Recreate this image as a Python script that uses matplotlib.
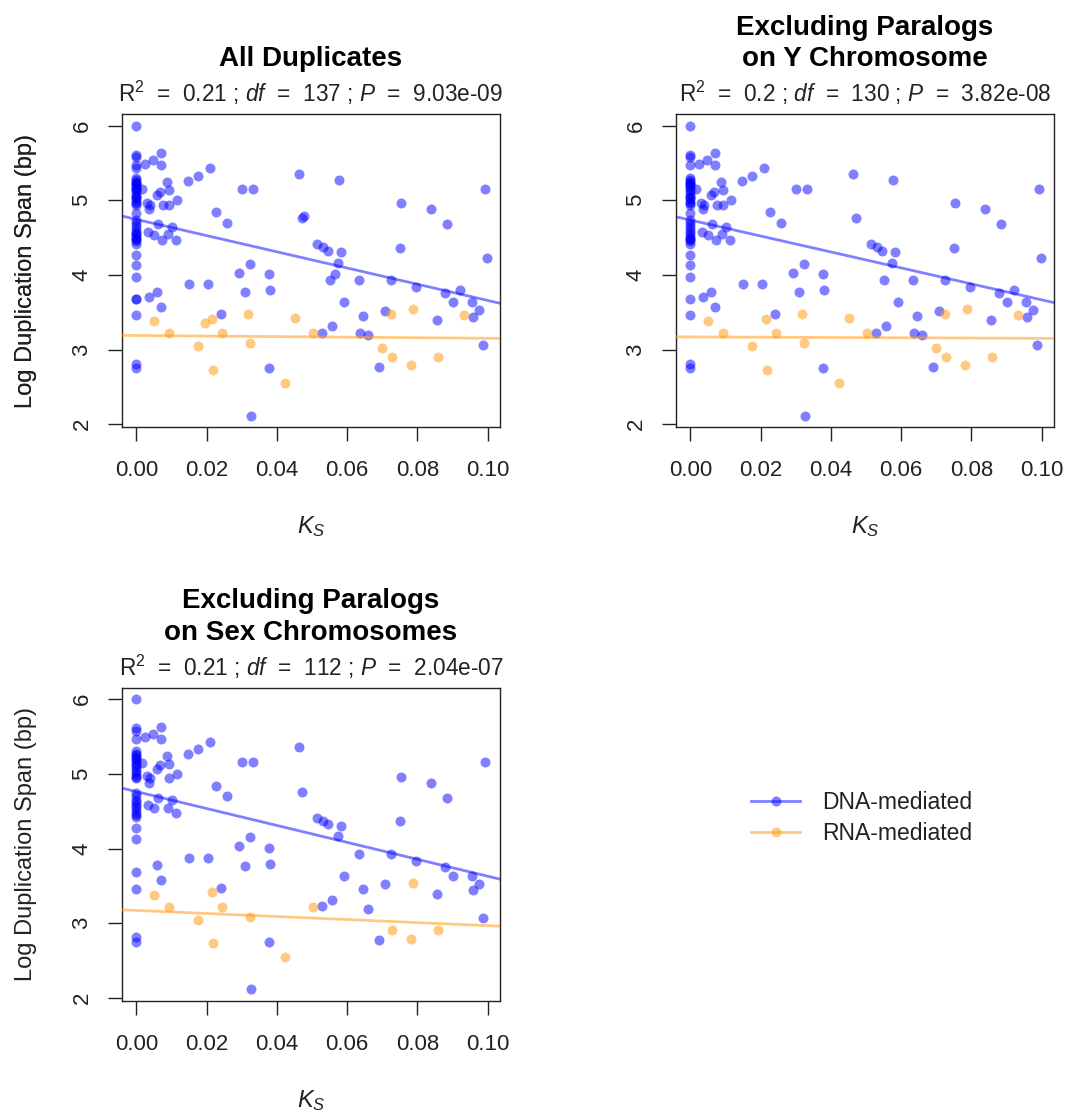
import matplotlib
matplotlib.use('Agg')
import matplotlib.pyplot as plt
from matplotlib.lines import Line2D
import numpy as np

plt.rcParams['font.family'] = ['Liberation Sans', 'DejaVu Sans']
plt.rcParams['mathtext.fontset'] = 'custom'
plt.rcParams['mathtext.rm'] = 'Liberation Sans'
plt.rcParams['mathtext.it'] = 'Liberation Sans:italic'
plt.rcParams['mathtext.bf'] = 'Liberation Sans:bold'

# ---------------- data ----------------
# DNA-mediated duplicates: Ks, log10 duplication span, chromosome class
# chromosome class: 'A' autosomal, 'X' involves X, 'Y' involves Y
dna_ks = [
    0, 0, 0, 0, 0, 0, 0, 0, 0, 0, 0, 0, 0, 0, 0, 0, 0, 0, 0, 0, 0, 0,
    0, 0, 0, 0, 0, 0, 0, 0, 0, 0, 0, 0, 0, 0, 0, 0, 0, 0, 0, 0, 0,
    0.00247, 0.00484, 0.00702, 0.00702, 0.00171, 0.00863, 0.00930, 0.00674,
    0.00598, 0.01148, 0.00294, 0.00389, 0.00370, 0.00769, 0.00930, 0.00626,
    0.00323, 0.00503, 0.01025, 0.00911, 0.00740, 0.01139, 0.00370, 0.00598,
    0.00712,
    0.01461, 0.01755, 0.02097, 0.02258, 0.02590, 0.03017, 0.03311, 0.01499,
    0.02049, 0.02932, 0.03235, 0.03102, 0.02400, 0.03273, 0.03776, 0.03814,
    0.03776, 0.04639, 0.04725, 0.04782, 0.05142, 0.05323, 0.05465, 0.05778,
    0.05825, 0.05731, 0.05655, 0.05522, 0.05911, 0.05285, 0.05579, 0.06328,
    0.06461, 0.06357, 0.06584, 0.06917, 0.07078, 0.07249, 0.07505, 0.07543,
    0.07951, 0.08378, 0.08548, 0.08843, 0.08795, 0.09004, 0.09213, 0.09545,
    0.09573, 0.09763, 0.09858, 0.09934, 0.09972,
]
dna_span = [
    6.00, 5.61, 5.58, 5.47, 5.43, 5.30, 5.27, 5.25, 5.23, 5.20, 5.18, 5.15,
    5.12, 5.09, 5.05, 5.02, 4.98, 4.96, 4.94, 4.83, 4.74, 4.70, 4.65, 4.62,
    4.58, 4.55, 4.51, 4.48, 4.45, 4.42, 4.27, 4.13, 3.97, 3.68, 3.68, 3.46,
    2.81, 2.75, 5.15, 5.05, 4.55, 4.48, 5.22,
    5.487, 5.540, 5.629, 5.473, 5.147, 5.241, 5.138, 5.116,
    5.067, 5.004, 4.969, 4.938, 4.879, 4.938, 4.938, 4.683,
    4.580, 4.536, 4.647, 4.549, 4.469, 4.469, 3.710, 3.777,
    3.576,
    5.259, 5.330, 5.429, 4.839, 4.701, 5.156, 5.156, 3.875,
    3.875, 4.031, 4.152, 3.772, 3.473, 2.116, 4.013, 3.795,
    2.750, 5.353, 4.759, 4.795, 4.411, 4.371, 4.326, 5.272,
    4.304, 4.165, 4.009, 3.933, 3.638, 3.228, 3.317, 3.933,
    3.455, 3.228, 3.196, 2.772, 3.522, 3.933, 4.366, 4.960,
    3.835, 4.879, 3.397, 4.683, 3.754, 3.638, 3.799, 3.638,
    3.442, 3.531, 3.063, 5.156, 4.228,
]
dna_chrom = [
    'A', 'A', 'A', 'A', 'Y', 'A', 'A', 'A', 'A', 'A', 'A', 'A',
    'A', 'A', 'A', 'A', 'A', 'A', 'A', 'X', 'A', 'A', 'A', 'A',
    'A', 'A', 'A', 'A', 'A', 'A', 'A', 'A', 'X', 'A', 'Y', 'A',
    'A', 'A', 'Y', 'X', 'Y', 'X', 'X',
    'A', 'A', 'A', 'A', 'A', 'A', 'A', 'A',
    'A', 'A', 'A', 'A', 'A', 'X', 'A', 'A',
    'A', 'A', 'A', 'A', 'X', 'A', 'X', 'A',
    'A',
    'A', 'A', 'A', 'A', 'A', 'A', 'A', 'A',
    'A', 'A', 'A', 'A', 'A', 'A', 'A', 'A',
    'A', 'A', 'A', 'Y', 'A', 'A', 'A', 'X',
    'A', 'A', 'Y', 'X', 'A', 'A', 'A', 'A',
    'A', 'X', 'A', 'A', 'A', 'A', 'A', 'A',
    'A', 'A', 'A', 'A', 'A', 'A', 'X', 'A',
    'A', 'A', 'A', 'A', 'X',
]

# RNA-mediated duplicates
rna_ks = [0.00493, 0.00920, 0.01746, 0.01964, 0.02144, 0.02182, 0.02429,
          0.03188, 0.03226, 0.04241, 0.04516, 0.05019, 0.06992, 0.07249,
          0.07287, 0.07865, 0.07827, 0.08596, 0.09336]
rna_span = [3.384, 3.219, 3.045, 3.362, 3.415, 2.728, 3.223,
            3.478, 3.085, 2.549, 3.420, 3.223, 3.027, 3.478,
            2.906, 3.540, 2.790, 2.906, 3.460]
rna_chrom = ['A', 'A', 'A', 'Y', 'A', 'A', 'A',
             'X', 'A', 'A', 'X', 'A', 'X', 'X',
             'A', 'A', 'A', 'A', 'X']

panel_titles = ['All Duplicates',
                'Excluding Paralogs\non Y Chromosome',
                'Excluding Paralogs\non Sex Chromosomes']
panel_r2 = ['0.21', '0.2', '0.21']
panel_df = ['137', '130', '112']
panel_p = ['9.03e-09', '3.82e-08', '2.04e-07']
panel_excluded = [[], ['Y'], ['X', 'Y']]
# regression lines (intercept, slope) per panel
dna_intercept = [4.744, 4.735, 4.762]
dna_slope = [-10.86, -10.69, -11.33]
rna_intercept = [3.188, 3.169, 3.171]
rna_slope = [-0.37, -0.19, -2.04]

x_ticks = [0.00, 0.02, 0.04, 0.06, 0.08, 0.10]
x_ticklabels = ['0.00', '0.02', '0.04', '0.06', '0.08', '0.10']
y_ticks = [2, 3, 4, 5, 6]
legend_labels = ['DNA-mediated', 'RNA-mediated']

# ---------------- styling ----------------
W, H = 1069, 1113
DNA_COL = (0, 0, 1, 0.5)
RNA_COL = (1, 0.62, 0.1, 0.55)
MS = 7.2
fig = plt.figure(figsize=(W / 100, H / 100), dpi=100)

# axes boxes in pixels (left, top, right, bottom)
boxes = [(121.7, 114, 500, 427), (675.7, 114, 1054, 427), (121.7, 687.5, 500, 1000.7)]

dks = np.array(dna_ks); dsp = np.array(dna_span); dch = np.array(dna_chrom)
rks = np.array(rna_ks); rsp = np.array(rna_span); rch = np.array(rna_chrom)

xlim = (-0.00417, 0.10351)
ylim = (1.962, 6.156)

for i, (l, t, r, b) in enumerate(boxes):
    ax = fig.add_axes([l / W, 1 - b / H, (r - l) / W, (b - t) / H])
    dm = ~np.isin(dch, panel_excluded[i])
    rm = ~np.isin(rch, panel_excluded[i])
    ax.plot(dks[dm], dsp[dm], 'o', ms=MS, mec='none', mfc=DNA_COL, zorder=2)
    ax.plot(rks[rm], rsp[rm], 'o', ms=MS, mec='none', mfc=RNA_COL, zorder=2)
    xs = np.array(xlim)
    ax.plot(xs, dna_intercept[i] + dna_slope[i] * xs, color=DNA_COL, lw=2, zorder=3)
    ax.plot(xs, rna_intercept[i] + rna_slope[i] * xs, color=RNA_COL, lw=2, zorder=3)
    ax.set_xlim(xlim)
    ax.set_ylim(ylim)
    ax.set_xticks(x_ticks)
    ax.set_xticklabels(x_ticklabels)
    ax.set_yticks(y_ticks)
    ax.set_yticklabels([str(v) for v in y_ticks], rotation=90, va='center')
    ax.tick_params(axis='both', direction='out', length=10, width=1.0,
                   color='#222222', labelsize=16, labelcolor='#222222')
    ax.tick_params(axis='x', pad=14)
    ax.tick_params(axis='y', pad=11)
    for s in ax.spines.values():
        s.set_linewidth(1.0)
        s.set_color('#222222')
    ax.set_xlabel(r'$K_S$', fontsize=17, color='#222222')
    ax.xaxis.set_label_coords(0.5, -100 / (b - t))
    ax.xaxis.label.set_va('center')
    ax.set_ylabel('Log Duplication Span (bp)', fontsize=17, color='#222222')
    ax.yaxis.set_label_coords((26 - l) / (r - l), 0.5)
    ax.yaxis.label.set_va('center')
    ax.text(0.5, 1 + 42 / (b - t), panel_titles[i], transform=ax.transAxes,
            ha='center', va='bottom', fontsize=20, fontweight='bold',
            linespacing=1.25, color='black')
    stat = (r'R$^2$  =  ' + panel_r2[i] + r' ; $\mathit{df}$  =  ' + panel_df[i]
            + r' ; $\mathit{P}$  =  ' + panel_p[i])
    ax.text(0.5, 1 + 12 / (b - t), stat, transform=ax.transAxes,
            ha='center', va='baseline', fontsize=16.3, color='#222222')

handles = [Line2D([], [], color=DNA_COL, lw=2, marker='o', ms=MS, mec='none', mfc=DNA_COL),
           Line2D([], [], color=RNA_COL, lw=2, marker='o', ms=MS, mec='none', mfc=RNA_COL)]
fig.legend(handles, legend_labels, loc='center left',
           bbox_to_anchor=(740 / W, 1 - 818 / H), frameon=False,
           borderpad=0, handlelength=2.1, handletextpad=1.0,
           labelspacing=0.35, fontsize=16.5, labelcolor='#222222')

fig.savefig('out.png', dpi=100)
